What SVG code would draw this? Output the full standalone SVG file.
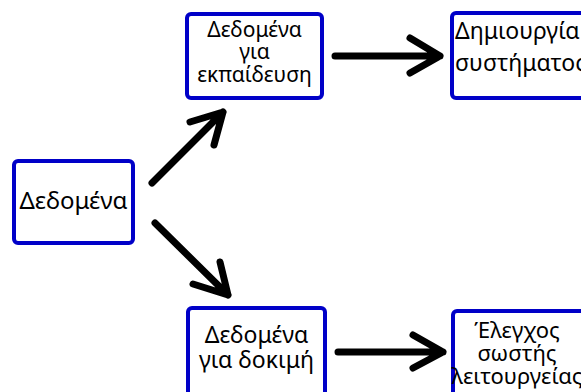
<svg xmlns="http://www.w3.org/2000/svg" width="581" height="392" viewBox="0 0 581 392">
<style>
.box{fill:#fff;stroke:#0000c8;stroke-width:4}
.t{font-family:"Noto Sans","DejaVu Sans",sans-serif;fill:#000}
.c{text-anchor:middle}
.a{fill:none;stroke:#000;stroke-width:7;stroke-linecap:round;stroke-linejoin:round}
</style>
<rect width="581" height="392" fill="#fff"/>
<g id="n1"><rect class="box" x="14" y="161" width="119" height="82" rx="4"/><text class="t c" x="73.5" y="209" font-size="24">Δεδομένα</text></g>
<g id="n2" font-size="21"><rect class="box" x="187" y="14" width="135" height="84" rx="4"/><text class="t c" x="254.5" y="37">Δεδομένα</text><text class="t c" x="254.5" y="59">για</text><text class="t c" x="254.5" y="82">εκπαίδευση</text></g>
<g id="n3" font-size="23"><rect class="box" x="452" y="13" width="140" height="85" rx="4"/><text class="t" x="455" y="39">Δημιουργία</text><text class="t" x="455" y="71">συστήματος</text></g>
<g id="n4" font-size="23"><rect class="box" x="188" y="308" width="137" height="100" rx="4"/><text class="t c" x="256.5" y="343">Δεδομένα</text><text class="t c" x="256.5" y="368">για δοκιμή</text></g>
<g id="n5" font-size="22"><rect class="box" x="453" y="311" width="140" height="100" rx="4"/><text class="t c" x="517" y="338">Έλεγχος</text><text class="t c" x="517" y="361">σωστής</text><text class="t c" x="517" y="384">λειτουργείας</text></g>
<g id="connectors">
<path class="a" d="M152 183L223 112M190 122L223 112L214 145"/>
<path class="a" d="M155 223L228 295M193 284L228 295L220 262"/>
<path class="a" d="M335 56H440M410 38L440 56L410 73"/>
<path class="a" d="M338 352H443M413 335L443 352L413 368"/>
</g>
</svg>
